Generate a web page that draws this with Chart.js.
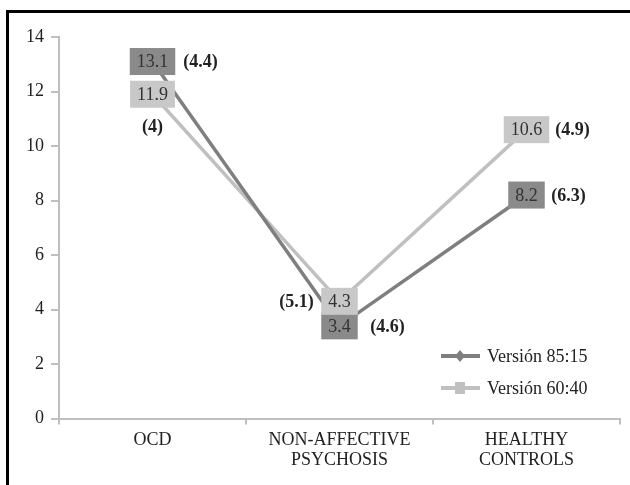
<!DOCTYPE html>
<html>
<head>
<meta charset="utf-8">
<script src="https://cdn.jsdelivr.net/npm/chart.js@4.4.0/dist/chart.umd.min.js"></script>
<style>
  html, body { margin: 0; padding: 0; background: #fff; overflow: hidden; }
  #wrap { position: relative; width: 630px; height: 485px; overflow: hidden; }
  #frame { position: absolute; left: 6px; top: 10px; width: 700px; height: 600px;
           border-left: 3px solid #000; border-top: 3px solid #000; }
  canvas { position: absolute; left: 0; top: 0; }
</style>
</head>
<body>
<div id="wrap">
  <div id="frame"></div>
  <canvas id="chart" width="630" height="485"></canvas>
</div>
<script>
// data
const categories = [["OCD"], ["NON-AFFECTIVE", "PSYCHOSIS"], ["HEALTHY", "CONTROLS"]];
const seriesNames = ["Versión 85:15", "Versión 60:40"];
const version8515 = [13.1, 3.4, 8.2];
const version6040 = [11.9, 4.3, 10.6];
const sd8515 = ["(4.4)", "(4.6)", "(6.3)"];
const sd6040 = ["(4)", "(5.1)", "(4.9)"];
const yMin = 0, yMax = 14, yStep = 2;

// where each SD label sits relative to its point (dx, dy in px)
const sdOffsets = [
  [[48, 0], [48, 0], [42, 0]],
  [[0, 32], [-43, 0], [46, 0]]
];

const serif = "'Liberation Serif', 'Times New Roman', serif";
Chart.defaults.font.family = serif;
Chart.defaults.font.size = 18;
Chart.defaults.color = "#222";

const darkLine = "#7f7f7f", darkBox = "#8a8a8a";
const lightLine = "#c0c0c0", lightBox = "#c8c8c8";
const boxColors = [darkBox, lightBox];
const sdLabels = [sd8515, sd6040];

const valueBoxes = {
  id: "valueBoxes",
  afterDatasetsDraw(chart) {
    const ctx = chart.ctx;
    ctx.save();
    ctx.textBaseline = "middle";
    chart.data.datasets.forEach((ds, i) => {
      const meta = chart.getDatasetMeta(i);
      meta.data.forEach((pt, j) => {
        const txt = ds.data[j].toFixed(1);
        ctx.font = "18px " + serif;
        const w = ctx.measureText(txt).width + 14;
        const h = 27;
        ctx.fillStyle = boxColors[i];
        ctx.fillRect(pt.x - w / 2, pt.y - h / 2, w, h);
        ctx.fillStyle = "#333";
        ctx.textAlign = "center";
        ctx.fillText(txt, pt.x, pt.y + 1);
      });
    });
    chart.data.datasets.forEach((ds, i) => {
      const meta = chart.getDatasetMeta(i);
      meta.data.forEach((pt, j) => {
        const off = sdOffsets[i][j];
        ctx.font = "bold 18px " + serif;
        ctx.fillStyle = "#222";
        ctx.textAlign = "center";
        ctx.fillText(sdLabels[i][j], pt.x + off[0], pt.y + off[1] + 1);
      });
    });
    ctx.restore();
  }
};

// legend sits inside the plot, bottom right
const sideLegend = {
  id: "sideLegend",
  afterDraw(chart) {
    const ctx = chart.ctx;
    ctx.save();
    chart.data.datasets.forEach((ds, i) => {
      const y = 356 + i * 32;
      ctx.strokeStyle = ds.borderColor;
      ctx.lineWidth = 4;
      ctx.beginPath();
      ctx.moveTo(441, y);
      ctx.lineTo(480, y);
      ctx.stroke();
      ctx.fillStyle = ds.borderColor;
      if (i === 0) {
        ctx.beginPath();
        ctx.moveTo(460, y - 6);
        ctx.lineTo(465, y);
        ctx.lineTo(460, y + 6);
        ctx.lineTo(455, y);
        ctx.closePath();
        ctx.fill();
      } else {
        ctx.fillRect(455, y - 6, 10, 12);
      }
      ctx.font = "18px " + serif;
      ctx.fillStyle = "#222";
      ctx.textAlign = "left";
      ctx.textBaseline = "middle";
      ctx.fillText(ds.label, 487, y + 1);
    });
    ctx.restore();
  }
};

new Chart(document.getElementById("chart"), {
  type: "line",
  data: {
    labels: categories,
    datasets: [
      { label: seriesNames[0], data: version8515, borderColor: darkLine, backgroundColor: darkLine,
        borderWidth: 3.5, pointRadius: 0, pointStyle: "rectRot", tension: 0 },
      { label: seriesNames[1], data: version6040, borderColor: lightLine, backgroundColor: lightLine,
        borderWidth: 3.5, pointRadius: 0, pointStyle: "rect", tension: 0 }
    ]
  },
  options: {
    responsive: false,
    animation: false,
    layout: { padding: { top: 37, right: 10, left: 0, bottom: 0 } },
    plugins: { legend: { display: false }, tooltip: { enabled: false } },
    scales: {
      x: {
        offset: true,
        grid: { offset: true, drawOnChartArea: false, tickLength: 6, color: "#bfbfbf", lineWidth: 2 },
        border: { color: "#bfbfbf", width: 2 },
        ticks: { padding: 6, font: { size: 18, lineHeight: 1.1 }, maxRotation: 0 },
        afterFit(scale) { scale.height = 66.5; }
      },
      y: {
        min: yMin, max: yMax,
        grid: { drawOnChartArea: false, tickLength: 8, color: "#bfbfbf", lineWidth: 2 },
        border: { color: "#bfbfbf", width: 2 },
        ticks: { stepSize: yStep, padding: 7, font: { size: 18 } },
        afterFit(scale) { scale.width = 59; }
      }
    }
  },
  plugins: [valueBoxes, sideLegend]
});
</script>
</body>
</html>
